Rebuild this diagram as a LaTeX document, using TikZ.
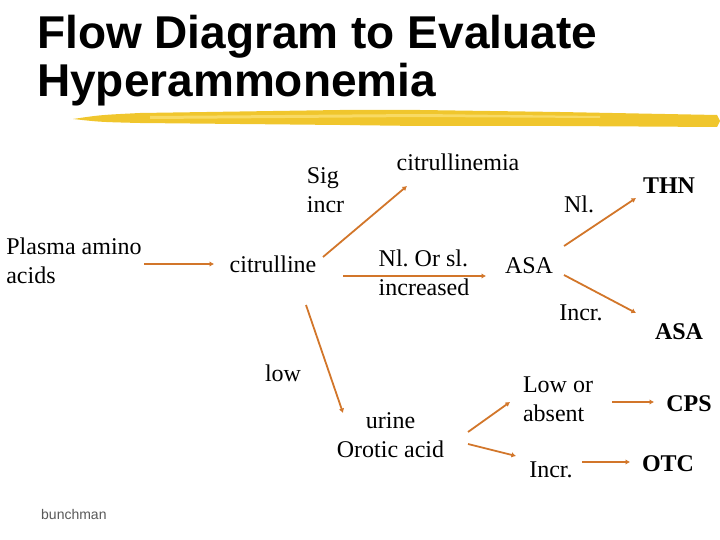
\documentclass[tikz,border=0pt]{standalone}
\usepackage{fontspec}
\setmainfont{Liberation Serif}
\newfontfamily\titlefont{Liberation Sans}
\newfontfamily\footfont{Liberation Sans}
\usetikzlibrary{arrows.meta}
\definecolor{flowcol}{RGB}{210,118,42}
\definecolor{brushcol}{RGB}{240,198,45}
\definecolor{brushlight}{RGB}{248,218,100}
\tikzstyle{every node}=[font=\fontsize{24}{29}\selectfont, inner sep=0pt]
\tikzstyle{word}=[text height=17pt, text depth=5pt]
\tikzstyle{result}=[word, font=\fontsize{24}{29}\selectfont\bfseries]
\tikzstyle{flow}=[draw=flowcol, line width=1.8pt, ->]
\frenchspacing

\begin{document}
\begin{tikzpicture}[x=1pt, y=-1pt, >={Latex[length=4.5pt,width=5.5pt]}]
    \useasboundingbox (0,0) rectangle (720,540);
    % title and brush stroke
    \node[anchor=north west, align=left, font=\titlefont\bfseries\fontsize{46}{48}\selectfont] (title) at (37,15) {Flow Diagram to Evaluate\\Hyperammonemia};
    \fill[brushcol] (73,119) .. controls (100,115) .. (140,113) -- (340,110) -- (420,110) -- (560,112) -- (717,115)
        -- (720,121) -- (717,127) -- (560,126) -- (420,126) -- (340,125) -- (140,123) .. controls (100,122) .. cycle;
    \fill[brushlight] (150,116) -- (420,114) -- (600,116) -- (600,118) -- (420,117) -- (150,119) -- cycle;
    % nodes
    \node[align=left] (plasma) at (74,261) {Plasma amino\\acids};
    \node[word] (citr) at (273,266) {citrulline};
    \node[word] (citrem) at (458,165) {citrullinemia};
    \node[align=left] (sig) at (325.5,190) {Sig\\incr};
    \node[align=left] (nlor) at (424,273) {Nl. Or sl.\\increased};
    \node[word] (asa) at (529,267) {ASA};
    \node[word] (nl) at (579,206) {Nl.};
    \node[word] (incrA) at (581,314) {Incr.};
    \node[result] (thn) at (669,188) {THN};
    \node[result] (asaB) at (679,333) {ASA};
    \node[word] (low) at (283,375) {low};
    \node[align=center] (urine) at (390.5,435) {urine\\Orotic acid};
    \node[align=left] (lowabs) at (558,399.5) {Low or\\absent};
    \node[word] (incrB) at (551,471) {Incr.};
    \node[result] (cps) at (689,405) {CPS};
    \node[result] (otc) at (668,465) {OTC};
    \node[anchor=base west, font=\footfont\fontsize{14}{16}\selectfont, text=black!65] (author) at (41,519) {bunchman};
    % connectors
    \draw[flow] ([shift={(70,3)}]plasma.center) -- ([shift={(-59,-2)}]citr.center);
    \draw[flow] ([shift={(50,-9)}]citr.center) -- ([shift={(-51,21)}]citrem.center);
    \draw[flow] ([shift={(70,10)}]citr.center) -- ([shift={(-43,9)}]asa.center);
    \draw[flow] ([shift={(33,39)}]citr.center) -- ([shift={(-47.5,-22)}]urine.center);
    \draw[flow] ([shift={(35,-21)}]asa.center) -- ([shift={(-33,10)}]thn.center);
    \draw[flow] ([shift={(35,8)}]asa.center) -- ([shift={(-43,-20)}]asaB.center);
    \draw[flow] ([shift={(77.5,-3)}]urine.center) -- ([shift={(-48,2.5)}]lowabs.center);
    \draw[flow] ([shift={(77.5,9)}]urine.center) -- ([shift={(-35,-15)}]incrB.center);
    \draw[flow] ([shift={(54,2.5)}]lowabs.center) -- ([shift={(-35,-3)}]cps.center);
    \draw[flow] ([shift={(31,-9)}]incrB.center) -- ([shift={(-38,-3)}]otc.center);
\end{tikzpicture}
\end{document}
